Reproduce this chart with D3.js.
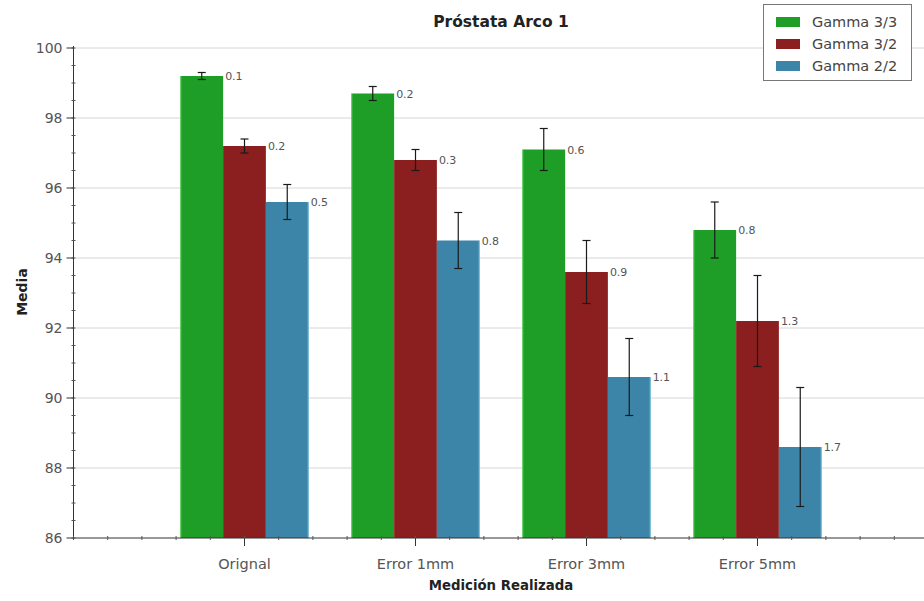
<!DOCTYPE html>
<html>
<head>
<meta charset="utf-8">
<script src="https://cdn.jsdelivr.net/npm/d3@7"></script>
<style>
  html, body { margin: 0; padding: 0; background: #fff; }
  svg { display: block; }
  text { font-family: "DejaVu Sans", Verdana, sans-serif; }
</style>
</head>
<body>
<svg id="chart" width="924" height="601"></svg>
<script>
// Measurements per category
const categories = ["Orignal", "Error 1mm", "Error 3mm", "Error 5mm"];
const seriesNames = ["Gamma 3/3", "Gamma 3/2", "Gamma 2/2"];
const gamma33 = [99.2, 98.7, 97.1, 94.8];
const gamma32 = [97.2, 96.8, 93.6, 92.2];
const gamma22 = [95.6, 94.5, 90.6, 88.6];
const err33 = [0.1, 0.2, 0.6, 0.8];
const err32 = [0.2, 0.3, 0.9, 1.3];
const err22 = [0.5, 0.8, 1.1, 1.7];
const yTicks = [86, 88, 90, 92, 94, 96, 98, 100];

const colors = ["#1f9e27", "#8b1e1f", "#3d85a8"];
const edgeColors = ["#66e860", "#8b1e1f", "#7fd0ea"];

const seriesValues = [gamma33, gamma32, gamma22];
const seriesErrors = [err33, err32, err22];

const svg = d3.select("#chart");
const plotLeft = 73.5, plotTop = 48, plotBottom = 538;

// Continuous x axis: category i sits at position i+1 on a 0..5 domain
const x = d3.scaleLinear().domain([0, 5]).range([plotLeft, plotLeft + 855]);
const y = d3.scaleLinear().domain([86, 100]).range([plotBottom, plotTop]);
const barW = 0.25;

// Horizontal grid lines
svg.append("g").selectAll("line")
  .data(yTicks.slice(1))
  .join("line")
  .attr("x1", plotLeft).attr("x2", 924)
  .attr("y1", d => y(d)).attr("y2", d => y(d))
  .attr("stroke", "#d6d6d6").attr("stroke-width", 1);

// Bars
const bars = [];
seriesValues.forEach((vals, s) => {
  vals.forEach((v, i) => {
    bars.push({ s, i, v, e: seriesErrors[s][i], x0: (i + 1) - 1.5 * barW + s * barW });
  });
});

svg.append("g").selectAll("rect")
  .data(bars)
  .join("rect")
  .attr("x", d => x(d.x0))
  .attr("width", d => x(d.x0 + barW) - x(d.x0))
  .attr("y", d => y(d.v))
  .attr("height", d => y(86) - y(d.v))
  .attr("fill", d => colors[d.s]);

// Light edges on the green and blue bars
svg.append("g").selectAll("line")
  .data(bars.filter(d => d.s !== 1))
  .join("line")
  .attr("x1", d => x(d.s === 0 ? d.x0 : d.x0 + barW) + (d.s === 0 ? 0.5 : -0.5))
  .attr("x2", d => x(d.s === 0 ? d.x0 : d.x0 + barW) + (d.s === 0 ? 0.5 : -0.5))
  .attr("y1", d => y(d.v)).attr("y2", y(86))
  .attr("stroke", d => edgeColors[d.s]).attr("stroke-width", 1).attr("opacity", 0.7);

// Error bars
const eb = svg.append("g").attr("stroke", "#1a1a1a").attr("stroke-width", 1.2);
bars.forEach(d => {
  const cx = x(d.x0 + barW / 2);
  eb.append("line").attr("x1", cx).attr("x2", cx)
    .attr("y1", y(d.v + d.e)).attr("y2", y(d.v - d.e));
  [d.v + d.e, d.v - d.e].forEach(t => {
    eb.append("line").attr("x1", cx - 4).attr("x2", cx + 4)
      .attr("y1", y(t)).attr("y2", y(t));
  });
});

// Error value labels beside each bar top
svg.append("g").selectAll("text")
  .data(bars)
  .join("text")
  .attr("x", d => x(d.x0 + barW) + 2)
  .attr("y", d => y(d.v) + 4)
  .attr("font-size", 11)
  .attr("fill", "#555")
  .text(d => d3.format(".1f")(d.e));

// Y axis
const yAxis = svg.append("g");
yAxis.append("line").attr("x1", plotLeft).attr("x2", plotLeft)
  .attr("y1", plotTop - 2).attr("y2", plotBottom).attr("stroke", "#333");
yAxis.selectAll("line.minor")
  .data(d3.range(86, 100.01, 0.5))
  .join("line").attr("class", "minor")
  .attr("x1", plotLeft - 2).attr("x2", plotLeft + 2)
  .attr("y1", d => y(d)).attr("y2", d => y(d))
  .attr("stroke", "#555");
yAxis.selectAll("line.major")
  .data(yTicks)
  .join("line").attr("class", "major")
  .attr("x1", plotLeft - 7).attr("x2", plotLeft)
  .attr("y1", d => y(d)).attr("y2", d => y(d))
  .attr("stroke", "#333");
yAxis.selectAll("text")
  .data(yTicks)
  .join("text")
  .attr("x", plotLeft - 11).attr("y", d => y(d) + 5)
  .attr("text-anchor", "end")
  .attr("font-size", 14)
  .attr("fill", "#555")
  .text(d => d);

// X axis
const xAxis = svg.append("g");
xAxis.append("line").attr("x1", plotLeft).attr("x2", 924)
  .attr("y1", plotBottom).attr("y2", plotBottom).attr("stroke", "#333");
xAxis.selectAll("line.minor")
  .data(d3.range(0, 5.01, 0.2))
  .join("line").attr("class", "minor")
  .attr("x1", d => x(d)).attr("x2", d => x(d))
  .attr("y1", plotBottom - 2).attr("y2", plotBottom + 2)
  .attr("stroke", "#555");
xAxis.selectAll("line.major")
  .data(d3.range(1, 6))
  .join("line").attr("class", "major")
  .attr("x1", d => x(d)).attr("x2", d => x(d))
  .attr("y1", plotBottom).attr("y2", plotBottom + 8)
  .attr("stroke", "#333");
xAxis.selectAll("text")
  .data(categories)
  .join("text")
  .attr("x", (d, i) => x(i + 1)).attr("y", 569)
  .attr("text-anchor", "middle")
  .attr("font-size", 14.5)
  .attr("fill", "#555")
  .text(d => d);

// Titles
svg.append("text")
  .attr("x", x(2.5)).attr("y", 27)
  .attr("text-anchor", "middle")
  .attr("font-size", 15.5).attr("font-weight", "bold").attr("fill", "#222")
  .text("Próstata Arco 1");

svg.append("text")
  .attr("x", x(2.5)).attr("y", 590)
  .attr("text-anchor", "middle")
  .attr("font-size", 13.3).attr("font-weight", "bold").attr("fill", "#222")
  .text("Medición Realizada");

svg.append("text")
  .attr("transform", "translate(27,292) rotate(-90)")
  .attr("text-anchor", "middle")
  .attr("font-size", 14).attr("font-weight", "bold").attr("fill", "#222")
  .text("Media");

// Legend
const lg = svg.append("g");
lg.append("rect").attr("x", 763.5).attr("y", 4.5).attr("width", 148).attr("height", 76)
  .attr("fill", "#fff").attr("stroke", "#777");
seriesNames.forEach((name, s) => {
  lg.append("rect").attr("x", 776).attr("y", 17 + s * 22)
    .attr("width", 24).attr("height", 10).attr("fill", colors[s]);
  lg.append("text").attr("x", 812).attr("y", 27 + s * 22)
    .attr("font-size", 14.5).attr("fill", "#444").text(name);
});
</script>
</body>
</html>
